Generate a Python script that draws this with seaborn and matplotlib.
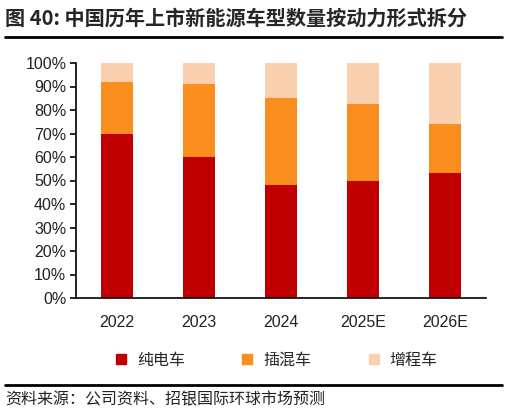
import numpy as np
import pandas as pd
import seaborn as sns
import matplotlib.pyplot as plt
from matplotlib.lines import Line2D

# data (share of new NEV models launched, %)
years = ['2022', '2023', '2024', '2025E', '2026E']
bev = [70, 60, 48, 50, 53]
phev = [22, 31, 37, 32.5, 21]
erev = [8, 9, 15, 17.5, 26]
labels = ['纯电车', '插混车', '增程车']
colors = ['#C00000', '#F98E1E', '#F9D0B0']

sns.set_style('white')
plt.rcParams['font.family'] = ['Liberation Sans', 'Noto Sans CJK SC', 'DejaVu Sans']

df = pd.DataFrame({'year': years, 'bev': bev, 'phev': phev, 'erev': erev})
df['s1'] = df['bev']
df['s2'] = df['bev'] + df['phev']
df['s3'] = df['s2'] + df['erev']

fig = plt.figure(figsize=(5.13, 4.17), dpi=100)
ax = fig.add_axes([76 / 513, 1 - 298 / 417, 410 / 513, 235 / 417])

# stacked: draw tallest first
for col, c in zip(['s3', 's2', 's1'], colors[::-1]):
    sns.barplot(data=df, x='year', y=col, color=c, width=0.4, ax=ax,
                saturation=1, linewidth=0)

ax.set_xlim(-0.5, 4.5)
ax.set_ylim(0, 100)
ax.set_yticks(np.arange(0, 101, 10))
ax.set_yticklabels([f'{v}%' for v in range(0, 101, 10)], fontsize=11.5, color='#222222')
ax.set_xticks(range(5))
ax.set_xticklabels(years, fontsize=11.5, color='#222222')
ax.set_xticks(np.arange(-0.5, 5, 1), minor=True)
ax.tick_params(axis='x', which='major', length=0, pad=12)
ax.tick_params(axis='x', which='minor', length=4, width=1.2, color='black', direction='out')
ax.tick_params(axis='y', length=4, width=1.2, color='black', direction='out', left=True, pad=3)
ax.set_xlabel('')
ax.set_ylabel('')
for s in ['top', 'right']:
    ax.spines[s].set_visible(False)
for s in ['left', 'bottom']:
    ax.spines[s].set_color('black')
    ax.spines[s].set_linewidth(1.2)

# legend
handles = [Line2D([], [], marker='s', linestyle='', markersize=7, color=c) for c in colors]
fig.legend(handles, labels, loc='center', bbox_to_anchor=(0.537, 1 - 360 / 417), ncol=3,
           frameon=False, columnspacing=3.4, handlelength=1.0, handletextpad=0.5,
           prop={'family': ['Noto Sans CJK SC', 'DejaVu Sans'], 'size': 11.5})

# title and source
fig.text(5 / 513, 1 - 18 / 417, '图 40: 中国历年上市新能源车型数量按动力形式拆分', fontsize=14.5,
         fontweight='bold', va='center', ha='left',
         family=['Noto Sans CJK SC', 'DejaVu Sans'])
fig.add_artist(Line2D([5 / 513, 502 / 513], [1 - 37 / 417, 1 - 37 / 417], color='black', lw=2))
fig.add_artist(Line2D([5 / 513, 502 / 513], [1 - 385 / 417, 1 - 385 / 417], color='black', lw=2))
fig.text(5 / 513, 1 - 400 / 417, '资料来源：公司资料、招银国际环球市场预测', fontsize=11.5,
         va='center', ha='left', color='#222222',
         family=['Noto Sans CJK SC', 'DejaVu Sans'])

fig.savefig('out.png', dpi=100)
